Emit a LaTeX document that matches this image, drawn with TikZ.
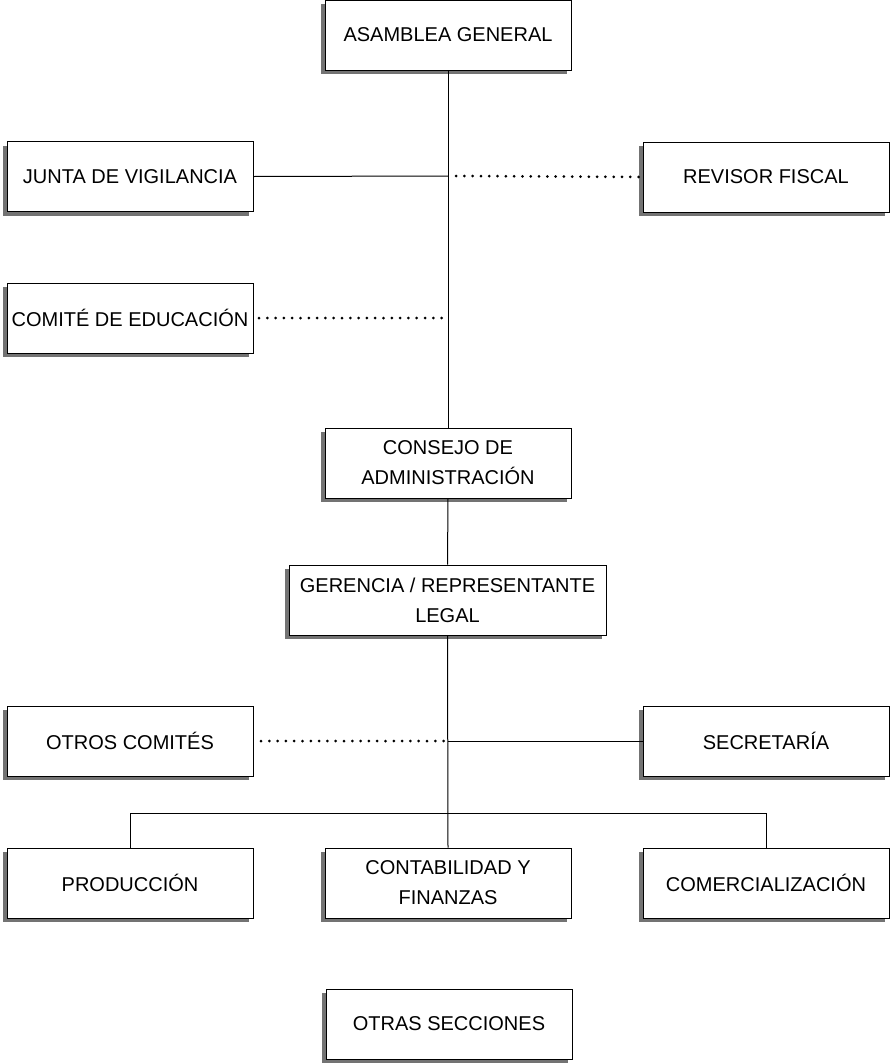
\documentclass[tikz,border=0pt]{standalone}
\usepackage{fontspec}
\setmainfont{Liberation Sans}
\usetikzlibrary{shadows}
\tikzset{ box_style/.style = { rectangle % cargo
        , draw
        , line width = 1pt
        , fill = white
        , minimum width = 246pt
        , minimum height = 70pt
        , align = center
        , inner sep = 2pt
        , font = \fontsize{20}{30}\selectfont
        , drop shadow = {shadow xshift=-4pt, shadow yshift=-4pt, fill=black!55, opacity=1}
        }
        , line_style/.style = { draw = black % linea de mando
        , line width = 1pt
        }
        , dot_style/.style = { draw = black % linea de asesoria
        , line width = 3pt
        , line cap = round
        , dash pattern = on 0pt off 8.3pt
        }
        }
\begin{document}
\begin{tikzpicture}[x=1pt, y=-1pt]
        \useasboundingbox (0,0) rectangle (890,1063);
        
        \node [box_style](ag) at (448,35) {ASAMBLEA GENERAL};
        \node [box_style](jv) at (130,176.5) {JUNTA DE VIGILANCIA};
        \node [box_style](rf) at (766,177) {REVISOR FISCAL};
        \node [box_style](ce) at (130,318) {COMITÉ DE EDUCACIÓN};
        \node [box_style](ca) at (448,463) {CONSEJO DE\\ADMINISTRACIÓN};
        \node [box_style, minimum width=317pt](ge) at (447.5,600) {GERENCIA / REPRESENTANTE\\LEGAL};
        \node [box_style](oc) at (130,741) {OTROS COMITÉS};
        \node [box_style](se) at (766,741) {SECRETARÍA};
        \node [box_style](pr) at (130,883) {PRODUCCIÓN};
        \node [box_style](cf) at (448,883) {CONTABILIDAD Y\\FINANZAS};
        \node [box_style](co) at (766,883) {COMERCIALIZACIÓN};
        \node [box_style](os) at (449,1024) {OTRAS SECCIONES};
        
        \coordinate (j1) at (448,176);
        \coordinate (j1d) at (456,176);
        \coordinate (j2) at (448,318);
        \coordinate (j2d) at (259,318);
        \coordinate (j3) at (448,741);
        \coordinate (j3d) at (261,741);
        \coordinate (bus) at (448,813);
        
        \draw [line_style] (ag.south) -- (ca.north);
        \draw [line_style] (ca.south) -- (ge.north);
        \draw [line_style] (ge.south) -- (cf.north);
        \draw [line_style] (jv.east) -- (j1);
        \draw [dot_style] (j1d) -- (rf.west);
        \draw [dot_style] (j2d) -- (j2);
        \draw [dot_style] (j3d) -- (j3);
        \draw [line_style] (j3) -- (se.west);
        \draw [line_style] (pr.north) -- (pr.north |- bus) -- (co.north |- bus) -- (co.north);
        
        \end{tikzpicture}
\end{document}
